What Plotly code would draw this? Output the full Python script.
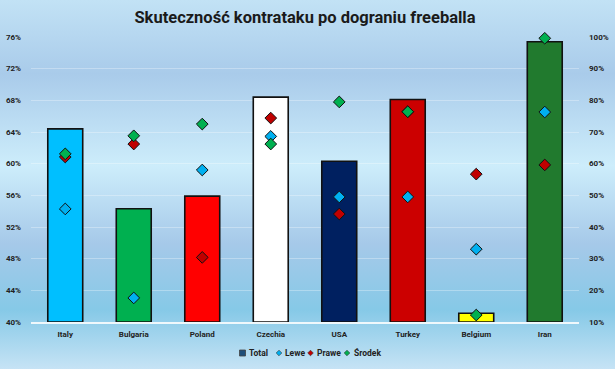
import base64
import plotly.graph_objects as go

categories = ["Italy", "Bulgaria", "Poland", "Czechia", "USA", "Turkey", "Belgium", "Iran"]
total = [64.4, 54.3, 55.9, 68.4, 60.3, 68.1, 41.1, 75.4]
lewe = [45.7, 17.6, 58.0, 68.6, 49.5, 49.5, 33.0, 76.3]
prawe = [62.1, 66.2, 30.4, 74.4, 44.1, 76.4, 56.7, 59.6]
srodek = [63.1, 68.8, 72.5, 66.2, 79.5, 76.4, 12.2, 99.6]
bar_colors = ["#00BFFF", "#00B050", "#FF0000", "#FFFFFF", "#002060", "#CC0000", "#FFFF00", "#217A2E"]
left_ticks = [40, 44, 48, 52, 56, 60, 64, 68, 72, 76]
right_ticks = [10, 20, 30, 40, 50, 60, 70, 80, 90, 100]

W, H = 615, 369
L, R, T, B = 31, 36, 37, 47
pw, ph = W - L - R, H - T - B


def px(x):
    return (x - L) / pw


def py(y):
    return 1 - (y - T) / ph


svg = f"""<svg xmlns='http://www.w3.org/2000/svg' width='{W}' height='{H}' preserveAspectRatio='none'>
<defs><linearGradient id='g' x1='0' y1='0' x2='0' y2='1'>
<stop offset='0' stop-color='#C2E2F5'/>
<stop offset='0.2' stop-color='#A9CBEA'/>
<stop offset='0.45' stop-color='#CDEDFB'/>
<stop offset='0.66' stop-color='#A6C9E9'/>
<stop offset='0.84' stop-color='#86C9E7'/>
<stop offset='1' stop-color='#C6E3F5'/>
</linearGradient></defs>
<rect width='{W}' height='{H}' fill='url(#g)'/></svg>"""
bg_uri = "data:image/svg+xml;base64," + base64.b64encode(svg.encode()).decode()

font_fam = "Roboto"
series = [("Lewe", lewe, "#00B0F0"), ("Prawe", prawe, "#C00000"), ("Środek", srodek, "#00B050")]

fig = go.Figure()
fig.add_trace(go.Bar(
    x=categories, y=[t - 40 for t in total], base=40, name="Total",
    marker=dict(color=bar_colors, line=dict(color="#111111", width=1.6)),
    width=0.51, showlegend=False, yaxis="y",
    hovertext=[f"{t}%" for t in total],
))
for name, vals, col in series:
    fig.add_trace(go.Scatter(
        x=categories, y=vals, mode="markers", name=name, yaxis="y2", showlegend=False,
        cliponaxis=False,
        marker=dict(symbol="diamond", size=9, color=col, line=dict(color="#111111", width=1)),
    ))

# manual legend
shapes = []
annotations = []
ly = 353
shapes.append(dict(type="rect", xref="paper", yref="paper",
                   x0=px(239.5), x1=px(245.5), y0=py(356), y1=py(350),
                   fillcolor="#1F4E79", line=dict(color="#444", width=0.8)))
annotations.append(dict(text="Total", xref="paper", yref="paper", x=px(247), y=py(ly),
                        xanchor="left", yanchor="middle", showarrow=False,
                        font=dict(family=font_fam, size=8.5, color="#222", weight=700)))
leg_pos = [(279, 283), (310.5, 315), (347, 352)]
for (name, vals, col), (cx, tx) in zip(series, leg_pos):
    d = 2.8
    path = (f"M {px(cx)},{py(ly - d)} L {px(cx + d)},{py(ly)} "
            f"L {px(cx)},{py(ly + d)} L {px(cx - d)},{py(ly)} Z")
    shapes.append(dict(type="path", xref="paper", yref="paper", path=path,
                       fillcolor=col, line=dict(color="#333", width=0.6)))
    annotations.append(dict(text=name, xref="paper", yref="paper", x=px(tx), y=py(ly),
                            xanchor="left", yanchor="middle", showarrow=False,
                            font=dict(family=font_fam, size=8.5, color="#222", weight=700)))

tickfont = dict(family=font_fam, size=8, color="#222222", weight=700)
fig.update_layout(
    width=W, height=H,
    margin=dict(l=L, r=R, t=T, b=B, pad=0, autoexpand=False),
    paper_bgcolor="rgba(0,0,0,0)", plot_bgcolor="rgba(0,0,0,0)",
    title=dict(text="Skuteczność kontrataku po dograniu freeballa", x=0.5, xref="paper", xanchor="center",
               y=1 - 17 / H, yanchor="middle",
               font=dict(family=font_fam, size=16.5, color="#1a1a1a", weight=700)),
    showlegend=False,
    xaxis=dict(showgrid=False, showline=True, linecolor="rgba(255,255,255,0.85)", linewidth=1.5,
               tickfont=tickfont, ticks="", fixedrange=True, automargin=False,
               ticklabelstandoff=4),
    yaxis=dict(range=[40, 76], tickvals=left_ticks, ticktext=[f"{v}%" for v in left_ticks],
               showgrid=True, gridcolor="rgba(255,255,255,0.3)", gridwidth=1, zeroline=False,
               tickfont=tickfont, ticks="", ticklabelstandoff=9, automargin=False),
    yaxis2=dict(range=[10, 100], tickvals=right_ticks, ticktext=[f"{v}%" for v in right_ticks],
                overlaying="y", side="right", showgrid=False, zeroline=False,
                tickfont=tickfont, ticks="", ticklabelstandoff=9, automargin=False),
    shapes=shapes,
    annotations=annotations,
    images=[dict(source=bg_uri, xref="paper", yref="paper",
                 x=-L / pw, y=1 + T / ph, sizex=W / pw, sizey=H / ph,
                 xanchor="left", yanchor="top", sizing="stretch", layer="below")],
)
fig.write_html("out.html",
               config={"displayModeBar": False},
               post_script="document.body.style.margin='0';document.body.style.padding='0';"
                           "document.body.style.overflow='hidden';")
